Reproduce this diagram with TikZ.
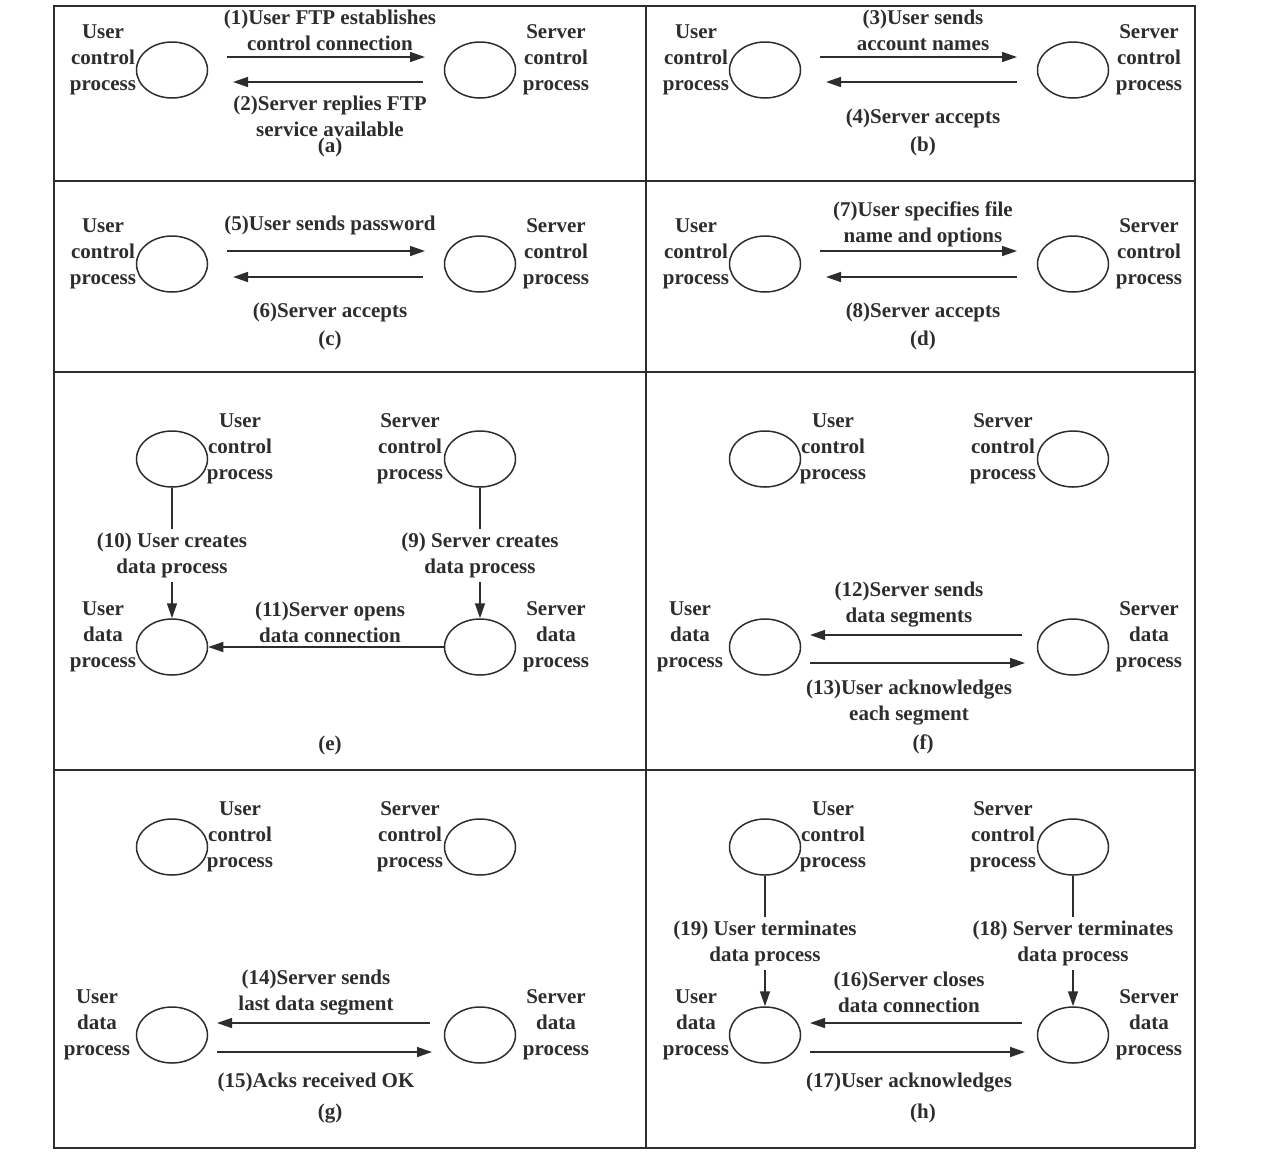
\documentclass[tikz,border=0pt]{standalone}
\usepackage{fontspec}
\setmainfont{Liberation Serif}
\usetikzlibrary{shapes.geometric,arrows.meta,calc}
\definecolor{ink}{RGB}{45,45,45}
\begin{document}
\begin{tikzpicture}[x=1pt,y=-1pt,
  proc/.style={draw=ink, ellipse, minimum width=71pt, minimum height=56pt, inner sep=0pt, line width=1.5pt},
  lbl/.style={align=center, text=ink, font=\fontsize{21}{26}\selectfont\bfseries, inner sep=0pt, yshift=-2.5pt},
  tag/.style={lbl, inner sep=4pt},
  arr/.style={draw=ink, line width=1.5pt, -{Triangle[length=15pt,width=10pt]}},
  ln/.style={draw=ink, line width=1.5pt},
  frm/.style={draw=ink, line width=1.8pt}]
\useasboundingbox (0,0) rectangle (1261,1160);
% frame
\draw[frm] (54,6) rectangle (1195,1148);
\draw[frm] (646,6) -- (646,1148);
\draw[frm] (54,181) -- (1195,181);
\draw[frm] (54,372) -- (1195,372);
\draw[frm] (54,770) -- (1195,770);

% ---------- (a)
\node[proc] (uca) at (172,70) {};
\node[proc] (sca) at (480,70) {};
\node[lbl] (luca) at (103,57) {User\\control\\process};
\node[lbl] (lsca) at (556,57) {Server\\control\\process};
\draw[arr] ($(uca.center)+(55,-13)$) -- ($(sca.center)+(-55,-13)$);
\draw[arr] ($(sca.center)+(-57,12)$) -- ($(uca.center)+(61,12)$);
\node[lbl] (m1) at (330,28) {(1)User FTP establishes\\control connection};
\node[lbl] (m2) at (330,114) {(2)Server replies FTP\\service available};
\node[lbl] (ca) at (330,145) {(a)};

% ---------- (b)
\node[proc] (ucb) at (765,70) {};
\node[proc] (scb) at (1073,70) {};
\node[lbl] (lucb) at (696,57) {User\\control\\process};
\node[lbl] (lscb) at (1149,57) {Server\\control\\process};
\draw[arr] ($(ucb.center)+(55,-13)$) -- ($(scb.center)+(-56,-13)$);
\draw[arr] ($(scb.center)+(-56,12)$) -- ($(ucb.center)+(61,12)$);
\node[lbl] (m3) at (923,28) {(3)User sends\\account names};
\node[lbl] (m4) at (923,116) {(4)Server accepts};
\node[lbl] (cb) at (923,144) {(b)};

% ---------- (c)
\node[proc] (ucc) at (172,264) {};
\node[proc] (scc) at (480,264) {};
\node[lbl] (lucc) at (103,251) {User\\control\\process};
\node[lbl] (lscc) at (556,251) {Server\\control\\process};
\draw[arr] ($(ucc.center)+(55,-13)$) -- ($(scc.center)+(-55,-13)$);
\draw[arr] ($(scc.center)+(-57,13)$) -- ($(ucc.center)+(61,13)$);
\node[lbl] (m5) at (330,223) {(5)User sends password};
\node[lbl] (m6) at (330,310) {(6)Server accepts};
\node[lbl] (cc) at (330,338) {(c)};

% ---------- (d)
\node[proc] (ucd) at (765,264) {};
\node[proc] (scd) at (1073,264) {};
\node[lbl] (lucd) at (696,251) {User\\control\\process};
\node[lbl] (lscd) at (1149,251) {Server\\control\\process};
\draw[arr] ($(ucd.center)+(55,-13)$) -- ($(scd.center)+(-56,-13)$);
\draw[arr] ($(scd.center)+(-56,13)$) -- ($(ucd.center)+(61,13)$);
\node[lbl] (m7) at (923,222) {(7)User specifies file\\name and options};
\node[lbl] (m8) at (923,310) {(8)Server accepts};
\node[lbl] (cd) at (923,338) {(d)};

% ---------- (e)
\node[proc] (uce) at (172,459) {};
\node[proc] (sce) at (480,459) {};
\node[proc] (ude) at (172,647) {};
\node[proc] (sde) at (480,647) {};
\node[lbl] (luce) at (240,446) {User\\control\\process};
\node[lbl] (lsce) at (410,446) {Server\\control\\process};
\node[lbl] (lude) at (103,634) {User\\data\\process};
\node[lbl] (lsde) at (556,634) {Server\\data\\process};
\node[tag] (m10) at (172,553) {(10) User creates\\data process};
\node[tag] (m9) at (480,553) {(9) Server creates\\data process};
\draw[ln] (uce) -- (m10);
\draw[arr] (m10) -- (ude);
\draw[ln] (sce) -- (m9);
\draw[arr] (m9) -- (sde);
\draw[arr] (sde) -- (ude);
\node[lbl] (m11) at (330,620) {(11)Server opens\\data connection};
\node[lbl] (ce) at (330,743) {(e)};

% ---------- (f)
\node[proc] (ucf) at (765,459) {};
\node[proc] (scf) at (1073,459) {};
\node[proc] (udf) at (765,647) {};
\node[proc] (sdf) at (1073,647) {};
\node[lbl] (lucf) at (833,446) {User\\control\\process};
\node[lbl] (lscf) at (1003,446) {Server\\control\\process};
\node[lbl] (ludf) at (690,634) {User\\data\\process};
\node[lbl] (lsdf) at (1149,634) {Server\\data\\process};
\draw[arr] ($(sdf.center)+(-51,-12)$) -- ($(udf.center)+(45,-12)$);
\draw[arr] ($(udf.center)+(45,16)$) -- ($(sdf.center)+(-48,16)$);
\node[lbl] (m12) at (909,602) {(12)Server sends\\data segments};
\node[lbl] (m13) at (909,700) {(13)User acknowledges\\each segment};
\node[lbl] (cf) at (923,742) {(f)};

% ---------- (g)
\node[proc] (ucg) at (172,847) {};
\node[proc] (scg) at (480,847) {};
\node[proc] (udg) at (172,1035) {};
\node[proc] (sdg) at (480,1035) {};
\node[lbl] (lucg) at (240,834) {User\\control\\process};
\node[lbl] (lscg) at (410,834) {Server\\control\\process};
\node[lbl] (ludg) at (97,1022) {User\\data\\process};
\node[lbl] (lsdg) at (556,1022) {Server\\data\\process};
\draw[arr] ($(sdg.center)+(-50,-12)$) -- ($(udg.center)+(45,-12)$);
\draw[arr] ($(udg.center)+(45,17)$) -- ($(sdg.center)+(-48,17)$);
\node[lbl] (m14) at (316,990) {(14)Server sends\\last data segment};
\node[lbl] (m15) at (316,1080) {(15)Acks received OK};
\node[lbl] (cg) at (330,1111) {(g)};

% ---------- (h)
\node[proc] (uch) at (765,847) {};
\node[proc] (sch) at (1073,847) {};
\node[proc] (udh) at (765,1035) {};
\node[proc] (sdh) at (1073,1035) {};
\node[lbl] (luch) at (833,834) {User\\control\\process};
\node[lbl] (lsch) at (1003,834) {Server\\control\\process};
\node[lbl] (ludh) at (696,1022) {User\\data\\process};
\node[lbl] (lsdh) at (1149,1022) {Server\\data\\process};
\node[tag] (m19) at (765,941) {(19) User terminates\\data process};
\node[tag] (m18) at (1073,941) {(18) Server terminates\\data process};
\draw[ln] (uch) -- (m19);
\draw[arr] (m19) -- (udh);
\draw[ln] (sch) -- (m18);
\draw[arr] (m18) -- (sdh);
\draw[arr] ($(sdh.center)+(-51,-12)$) -- ($(udh.center)+(45,-12)$);
\draw[arr] ($(udh.center)+(45,17)$) -- ($(sdh.center)+(-48,17)$);
\node[lbl] (m16) at (909,990) {(16)Server closes\\data connection};
\node[lbl] (m17) at (909,1080) {(17)User acknowledges};
\node[lbl] (ch) at (923,1111) {(h)};
\end{tikzpicture}
\end{document}
